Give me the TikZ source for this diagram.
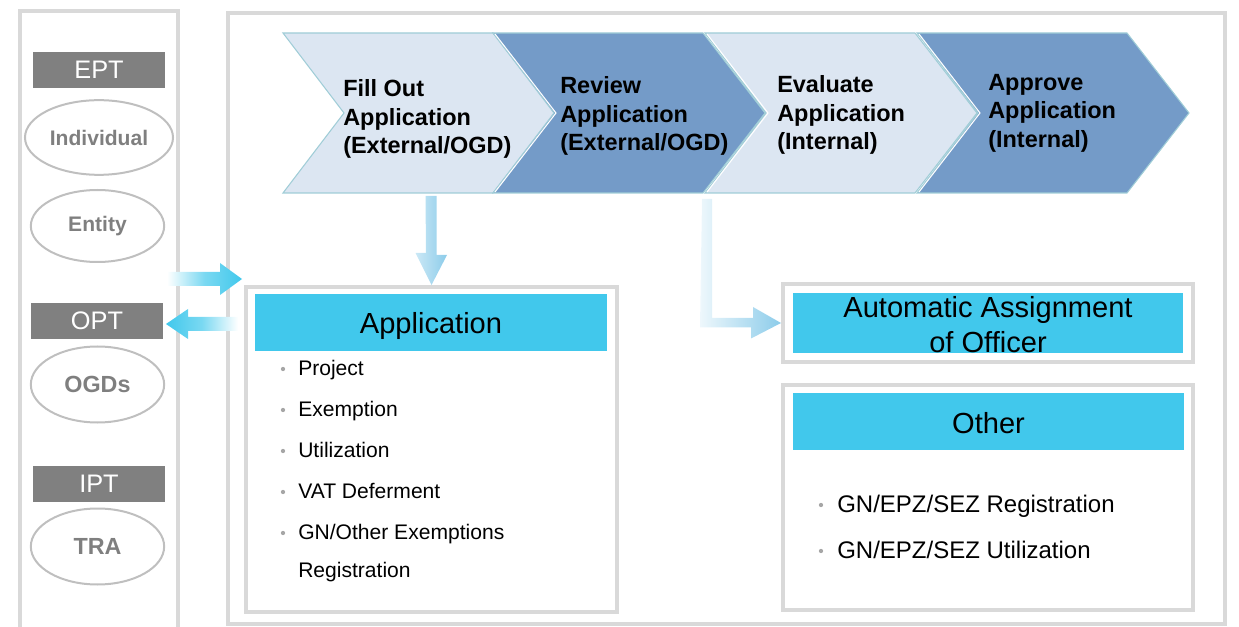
\documentclass[tikz,border=0pt]{standalone}
\usepackage{fontspec}
\setmainfont{Liberation Sans}
\usetikzlibrary{fit,positioning,calc,shapes.geometric}

\definecolor{panelgray}{RGB}{217,217,217}
\definecolor{tagfill}{RGB}{128,128,128}
\definecolor{ringgray}{RGB}{191,191,191}
\definecolor{ringtext}{RGB}{127,127,127}
\definecolor{cyanc}{RGB}{65,200,236}
\definecolor{chevlight}{RGB}{220,230,242}
\definecolor{chevdark}{RGB}{116,155,200}
\definecolor{chevedge}{RGB}{160,205,215}
\definecolor{dotgray}{RGB}{166,166,166}
\definecolor{paleblue}{RGB}{140,204,234}

\begin{document}
\begin{tikzpicture}[x=0.75pt, y=-0.75pt]
\tikzstyle{panel}=[rectangle, draw=panelgray, line width=3pt, inner sep=0]
\tikzstyle{tag}=[rectangle, fill=tagfill, text=white, inner sep=0, minimum width=99pt, minimum height=27pt, font=\fontsize{19}{22}\selectfont]
\tikzstyle{ring}=[ellipse, draw=ringgray, line width=1.5pt, text=ringtext, inner sep=0, font=\fontsize{15.8}{18}\selectfont\bfseries]
\tikzstyle{head}=[rectangle, fill=cyanc, inner sep=0, align=center, font=\fontsize{21.8}{26}\selectfont]
\tikzstyle{chevtext}=[anchor=west, align=left, inner sep=0, font=\fontsize{17.6}{21.4}\selectfont\bfseries]
\tikzstyle{item}=[anchor=base west, inner sep=0, font=\fontsize{15.8}{18}\selectfont]
\tikzstyle{bigitem}=[anchor=base west, inner sep=0, font=\fontsize{18}{21}\selectfont]
\tikzstyle{dot}=[fill=dotgray]
\tikzstyle{fadein}=[left color=white, right color=cyanc, middle color=cyanc!70]
\tikzstyle{fadeout}=[left color=cyanc, right color=white, middle color=cyanc!70]
\tikzstyle{fadedown}=[left color=paleblue!45, right color=paleblue]
\tikzstyle{fadeturn}=[left color=paleblue!15, right color=paleblue]

\useasboundingbox (0,0) rectangle (1239,627);

% panels
\node[panel, fit={(19.5,11) (178,630)}] (parties) {};
\node[panel, fit={(227.5,13) (1225,624)}] (process) {};

% parties
\node[tag] (ept) at (99,70) {EPT};
\node[ring, minimum width=111pt, minimum height=56pt] (individual) at (99,137.5) {Individual};
\node[ring, minimum width=100pt, minimum height=54pt] (entity) at (97.5,226) {Entity};
\node[tag] (opt) at (97,321) {OPT};
\node[ring, minimum width=100pt, minimum height=57pt, font=\fontsize{17.5}{20}\selectfont\bfseries] (ogds) at (97.5,384.5) {OGDs};
\node[tag] (ipt) at (99,483.5) {IPT};
\node[ring, minimum width=100pt, minimum height=57pt, font=\fontsize{17.5}{20}\selectfont\bfseries] (tra) at (97.5,546.5) {TRA};

% process chevrons
\foreach \x/\c in {283/chevlight, 493/chevdark, 705/chevlight, 917/chevdark}
  \filldraw[fill=\c, draw=chevedge, line width=0.8pt] (\x,33) -- ({\x+210},33) -- ({\x+272},113)
    -- ({\x+210},193) -- (\x,193) -- ({\x+61},113) -- cycle;
\foreach \x in {493, 705, 917}
  \draw[white, line width=0.8pt] ({\x+2},34) -- ({\x+63},113) -- ({\x+2},192);
\node[chevtext] (fillout) at (343,119) {Fill Out\\Application\\(External/OGD)};
\node[chevtext] (review) at (560,116) {Review\\Application\\(External/OGD)};
\node[chevtext] (evaluate) at (777,115) {Evaluate\\Application\\(Internal)};
\node[chevtext] (approve) at (988,113) {Approve\\Application\\(Internal)};

% application box
\node[panel, fit={(246,287) (617,612)}] (appbox) {};
\node[head, fit={(255,294) (607,351)}] (apphead) {};
\node[head, fill=none] (apptitle) at ($(apphead.center)+(0,3)$) {Application};
\foreach \t [count=\i] in {Project, Exemption, Utilization, VAT Deferment, GN/Other Exemptions}
{
  \node[item] (app\i) at (298,{375+41*(\i-1)}) {\t};
  \fill[dot] ($(app\i.base west)+(-15,-6)$) circle (1.6pt);
}
\node[item] (app6) at (298,577) {Registration};

% officer box
\node[panel, fit={(783,284) (1193,362)}] (officerbox) {};
\node[head, fit={(793,293) (1183,353)}] (officerhead) {};
\node[head, fill=none, font=\fontsize{21.8}{26.3}\selectfont] (officer) at ($(officerhead.center)+(0,2)$) {Automatic Assignment\\of Officer};

% other box
\node[panel, fit={(783,385) (1193,610)}] (otherbox) {};
\node[head, fit={(793,393) (1184,450)}] (otherhead) {};
\node[head, fill=none] (othertitle) at ($(otherhead.center)+(0,2)$) {Other};
\node[bigitem] (other1) at (837,512) {GN/EPZ/SEZ Registration};
\node[bigitem] (other2) at (837,558) {GN/EPZ/SEZ Utilization};
\fill[dot] ($(other1.base west)+(-16,-7)$) circle (1.6pt);
\fill[dot] ($(other2.base west)+(-16,-7)$) circle (1.6pt);

% block arrows
\coordinate (inS) at (167,279);
\coordinate (inT) at (242,279);
\shade[fadein] (inS) ++(0,-7) -- ++(53,0) -- ++(0,-9) -- (inT) -- ++(-22,16) -- ++(0,-9) -- ++(-53,0) -- cycle;
\coordinate (outS) at (238,324);
\coordinate (outT) at (166,324);
\shade[fadeout] (outS) ++(0,-7) -- ++(-50,0) -- ++(0,-8) -- (outT) -- ++(22,15) -- ++(0,-8) -- ++(50,0) -- cycle;
\coordinate (dnS) at (431,196);
\coordinate (dnT) at (appbox.north);
\shade[fadedown] (dnS) ++(-5.5,0) -- ++(11,0) -- ++(0,59) -- ++(10.5,0) -- (dnT) -- ++(-16,-32) -- ++(10.5,0) -- cycle;
\coordinate (elS) at (707,199);
\coordinate (elT) at (officerbox.west);
\shade[fadeturn] (elS) ++(-5,0) -- ++(10,0) -- ++(0,119) -- ++(41,0) -- ++(0,-11) -- (elT) -- ++(-30,15.5) -- ++(0,-11) -- ++(-51,0) -- cycle;
\end{tikzpicture}
\end{document}
